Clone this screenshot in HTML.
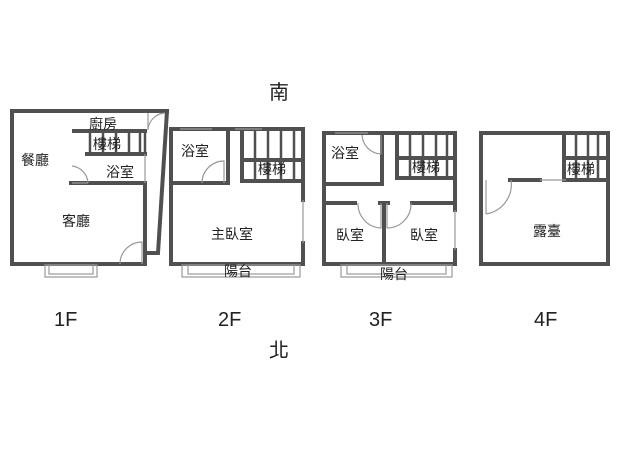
<!DOCTYPE html>
<html><head><meta charset="utf-8"><style>
html,body{margin:0;padding:0;background:#fff;}
svg{display:block;}
text{font-family:"Liberation Sans","Noto Sans CJK TC",sans-serif;fill:#222;}
</style></head><body>
<svg width="638" height="460" viewBox="0 0 638 460" xmlns="http://www.w3.org/2000/svg">
<g fill="none" stroke="#505050" stroke-width="4" stroke-linecap="square">
<!-- 1F -->
<path d="M12 111 H167 M12 111 V264 H145 V183 M74 131 H145 M87 154 H145 M71 183 H145"/>
<path d="M167 111 L158 253 H148" />
<path d="M145 131 V154 M90 131V154 M103 131V154 M116 131V154 M129 131V154 M140 131V154" stroke-width="2.5"/>
<!-- 2F -->
<path d="M171 129 V264 H303 V243 M303 200 V129 H171 M228 129 V183 H171 M242 129 V181 H303 M242 160 H303"/>
<path d="M255 129V181 M268 129V181 M281 129V181 M294 129V181 M242 129 V181" stroke-width="2.5"/>
<!-- 3F -->
<path d="M324 133 V264 H455 V250 M455 210 V133 H324 M382 133 V184 H324 M397 133 V178 H455 M397 158 H455 M324 203 H355 M380 203 H388 M412 203 H455 M384 203 V264"/>
<path d="M410 133V178 M423 133V178 M436 133V178 M447 133V178" stroke-width="2.5"/>
<!-- 4F -->
<path d="M481 133 V264 H608 V133 Z M510 180 H540 M566 180 H608 M564 133 V180 M564 158 H608"/>
<path d="M576 133V180 M588 133V180 M598 133V180" stroke-width="2.5"/>
</g>
<g fill="none" stroke="#999" stroke-width="1.2">
<rect x="45" y="265" width="52" height="12"/><rect x="49" y="265" width="44" height="9"/>
<rect x="182" y="265" width="118" height="12"/><rect x="188" y="265" width="106" height="9"/>
<rect x="341" y="265" width="111" height="12"/><rect x="347" y="265" width="99" height="9"/>
<path d="M180 129 H212 M235 129 H262 M335 133 H368 M540 180 H566 M303 200 V243 M455 210 V250 M145 154 V183"/>
<path d="M120 264 A22 22 0 0 1 142 242 V264"/>
<path d="M88 183 A18 18 0 0 0 72 166 M72 183 H88"/>
<path d="M148 130 A18 18 0 0 1 165 113 M148 113 V130"/>
<path d="M202 183 A22 22 0 0 1 224 161 V183"/>
<path d="M362 135 A20 20 0 0 0 381 154 M381 135 V154"/>
<path d="M358 203 A24 24 0 0 0 381 228 V203 M387 228 A24 24 0 0 0 411 203 M387 203 V228"/>
<path d="M486 214 A30 30 0 0 0 511 180 M486 180 V214"/>
</g>
<g font-size="14">
<text x="89" y="129">廚房</text>
<text x="93" y="149">樓梯</text>
<text x="21" y="165">餐廳</text>
<text x="106" y="177">浴室</text>
<text x="62" y="226">客廳</text>
<text x="181" y="156">浴室</text>
<text x="258" y="174">樓梯</text>
<text x="211" y="239">主臥室</text>
<text x="224" y="276">陽台</text>
<text x="331" y="158">浴室</text>
<text x="412" y="172">樓梯</text>
<text x="336" y="240">臥室</text>
<text x="410" y="240">臥室</text>
<text x="380" y="279">陽台</text>
<text x="567" y="174">樓梯</text>
<text x="533" y="236">露臺</text>
</g>
<g font-size="20">
<text x="269" y="99">南</text>
<text x="269" y="357">北</text>
<text x="54" y="326">1F</text>
<text x="218" y="326">2F</text>
<text x="369" y="326">3F</text>
<text x="534" y="326">4F</text>
</g>
</svg>
</body></html>
